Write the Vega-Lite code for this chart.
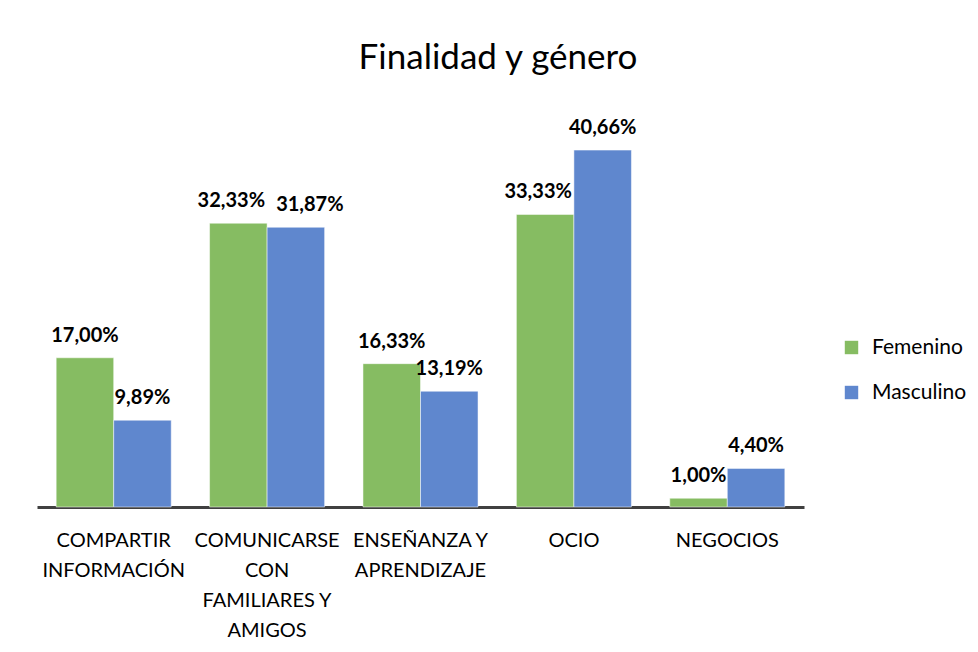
{
  "$schema": "https://vega.github.io/schema/vega-lite/v6.json",
  "width": 767,
  "height": 395,
  "autosize": {"type": "none"},
  "padding": {"left": 37, "top": 112, "right": 174, "bottom": 145},
  "background": "white",
  "title": {"text": "Finalidad y género", "anchor": "middle", "frame": "bounds", "fontSize": 35, "font": "Lato", "fontWeight": "normal", "color": "#000000", "offset": 36, "dx": -4},
  "config": {
    "locale": {"number": {"decimal": ",", "thousands": ".", "grouping": [3], "currency": ["", "€"]}},
    "view": {"stroke": null},
    "font": "Lato"
  },
  "data": {
    "values": [
      {"cat": "COMPARTIR|INFORMACIÓN", "genero": "Femenino", "v": 0.17},
      {"cat": "COMPARTIR|INFORMACIÓN", "genero": "Masculino", "v": 0.0989},
      {"cat": "COMUNICARSE|CON|FAMILIARES Y|AMIGOS", "genero": "Femenino", "v": 0.3233},
      {"cat": "COMUNICARSE|CON|FAMILIARES Y|AMIGOS", "genero": "Masculino", "v": 0.3187},
      {"cat": "ENSEÑANZA Y|APRENDIZAJE", "genero": "Femenino", "v": 0.1633},
      {"cat": "ENSEÑANZA Y|APRENDIZAJE", "genero": "Masculino", "v": 0.1319},
      {"cat": "OCIO", "genero": "Femenino", "v": 0.3333},
      {"cat": "OCIO", "genero": "Masculino", "v": 0.4066},
      {"cat": "NEGOCIOS", "genero": "Femenino", "v": 0.01},
      {"cat": "NEGOCIOS", "genero": "Masculino", "v": 0.044}
    ]
  },
  "encoding": {
    "x": {
      "field": "cat", "type": "nominal",
      "sort": ["COMPARTIR|INFORMACIÓN", "COMUNICARSE|CON|FAMILIARES Y|AMIGOS", "ENSEÑANZA Y|APRENDIZAJE", "OCIO", "NEGOCIOS"],
      "scale": {"paddingInner": 0.25, "paddingOuter": 0.125},
      "axis": {
        "title": null, "labelAngle": 0, "ticks": false, "domainColor": "#404040", "domainWidth": 3,
        "labelFontSize": 20, "labelColor": "#000000", "labelPadding": 23, "labelLineHeight": 30,
        "labelExpr": "split(datum.label, '|')", "labelLimit": 0, "labelOverlap": false, "labelFont": "Lato"
      }
    },
    "xOffset": {"field": "genero", "type": "nominal", "sort": ["Femenino", "Masculino"]},
    "y": {"field": "v", "type": "quantitative", "scale": {"domain": [0, 0.45]}, "axis": null}
  },
  "layer": [
    {
      "mark": {"type": "bar", "stroke": "#ffffff", "strokeWidth": 0.5},
      "encoding": {
        "color": {
          "field": "genero", "type": "nominal",
          "scale": {"domain": ["Femenino", "Masculino"], "range": ["#86bc62", "#5f87ce"]},
          "legend": {
            "orient": "none", "legendX": 804, "legendY": 225, "title": null, "symbolType": "square",
            "symbolSize": 180, "symbolStrokeWidth": 0, "labelFontSize": 21, "labelColor": "#000000",
            "rowPadding": 23, "labelOffset": 10, "padding": 0, "labelFont": "Lato"
          }
        }
      }
    },
    {
      "transform": [{"filter": "datum.cat != 'COMUNICARSE|CON|FAMILIARES Y|AMIGOS' && !(datum.cat == 'OCIO' && datum.genero == 'Femenino')"}],
      "mark": {"type": "text", "baseline": "alphabetic", "dy": -16, "fontSize": 20, "fontWeight": "bold", "color": "#000000"},
      "encoding": {"text": {"field": "v", "type": "quantitative", "format": ".2%"}}
    },
    {
      "transform": [{"filter": "(datum.cat == 'COMUNICARSE|CON|FAMILIARES Y|AMIGOS' || datum.cat == 'OCIO') && datum.genero == 'Femenino'"}],
      "mark": {"type": "text", "baseline": "alphabetic", "dy": -16, "dx": -7, "fontSize": 20, "fontWeight": "bold", "color": "#000000"},
      "encoding": {"text": {"field": "v", "type": "quantitative", "format": ".2%"}}
    },
    {
      "transform": [{"filter": "datum.cat == 'COMUNICARSE|CON|FAMILIARES Y|AMIGOS' && datum.genero == 'Masculino'"}],
      "mark": {"type": "text", "baseline": "alphabetic", "dy": -16, "dx": 14, "fontSize": 20, "fontWeight": "bold", "color": "#000000"},
      "encoding": {"text": {"field": "v", "type": "quantitative", "format": ".2%"}}
    }
  ]
}
